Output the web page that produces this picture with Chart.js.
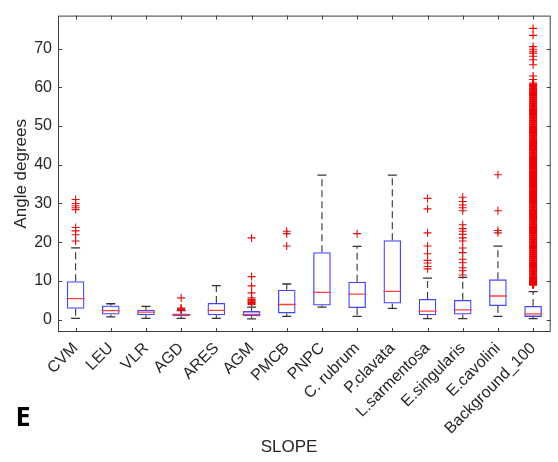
<!DOCTYPE html>
<html>
<head>
<meta charset="utf-8">
<script src="https://cdn.jsdelivr.net/npm/chart.js@4.4.1/dist/chart.umd.min.js"></script>
<style>
  html, body { margin: 0; padding: 0; background: #fff; overflow: hidden; }
  #wrap { width: 561px; height: 462px; position: relative; }
</style>
</head>
<body>
<div id="wrap"><canvas id="myChart"></canvas></div>
<script>
var categories = ['CVM', 'LEU', 'VLR', 'AGD', 'ARES', 'AGM', 'PMCB', 'PNPC', 'C. rubrum', 'P.clavata', 'L.sarmentosa', 'E.singularis', 'E.cavolini', 'Background_100'];
var yTicks = [0, 10, 20, 30, 40, 50, 60, 70];

var q1 = [2.8, 1.3, 1.1, 0.85, 1.1, 0.85, 1.6, 3.65, 3.0, 4.15, 1.1, 1.3, 3.5, 0.7];
var median = [5.4, 2.3, 1.95, 1.3, 2.4, 1.35, 3.9, 7.05, 6.6, 7.3, 2.2, 2.5, 6.1, 1.5];
var q3 = [9.9, 3.65, 2.55, 1.6, 4.3, 2.2, 7.7, 17.4, 9.8, 20.5, 5.35, 5.1, 10.4, 3.5];
var whiskerLow = [0.3, 0.7, 0.3, 0.3, 0.3, 0.2, 0.85, 3.2, 0.85, 2.9, 0.25, 0.25, 0.85, 0.25];
var whiskerHigh = [18.5, 4.1, 3.4, 2.3, 8.8, 3.2, 9.2, 37.3, 18.9, 37.3, 10.7, 10.9, 19.0, 7.2];

var outliers = [
  [31.0, 30.0, 29.4, 28.9, 28.4, 23.8, 22.9, 21.9, 20.3],
  [],
  [],
  [5.6, 3.0, 2.8, 2.6, 2.4],
  [],
  [21.1, 11.1, 8.7, 6.9, 5.6, 5.2, 5.0, 4.8, 4.6, 4.4, 4.2, 3.9],
  [22.8, 22.2, 19.0],
  [],
  [22.2],
  [],
  [31.3, 28.6, 22.4, 19.0, 17.0, 15.3, 14.6, 13.7, 13.1],
  [31.6, 30.5, 29.6, 28.9, 28.1, 24.5, 23.5, 22.8, 22.0, 21.1, 20.3, 18.5, 17.3, 15.6, 14.7, 13.4, 12.6, 11.5],
  [37.4, 28.1, 23.0, 22.4],
  []
];
// Background_100 has a dense column of outliers
var bgOutliers = [75.2, 73.4, 70.5, 69.8, 69.3, 68.8, 68.0, 67.1, 65.8, 62.9, 62.0, 61.1,
  60.7, 60.2, 59.7, 59.2, 58.7, 58.2, 57.8, 57.3, 56.8, 56.3, 55.8, 55.3, 54.8, 54.3, 53.9, 53.4,
  52.9, 52.4, 51.9, 51.4, 50.9, 50.4, 49.9, 49.5, 49.0, 48.5, 48.0, 47.5, 47.0, 46.5, 46.0, 45.6,
  45.1, 44.6, 44.1, 43.6, 43.1, 42.6, 42.1, 41.7, 41.2, 40.7, 40.2, 39.7, 39.2, 38.7, 38.2, 37.8,
  37.3, 36.8, 36.3, 35.8, 35.3, 34.8, 34.3, 33.9, 33.4, 32.9, 32.4, 31.9, 31.4, 30.9, 30.4, 30.0,
  29.5, 29.0, 28.5, 28.0, 27.5, 27.0, 26.5, 26.1, 25.6, 25.1, 24.6, 24.1, 23.6, 23.1, 22.6, 22.2,
  21.7, 21.2, 20.7, 20.2, 19.7, 19.2, 18.7, 18.3, 17.8, 17.3, 16.8, 16.3, 15.8, 15.3, 14.8, 14.4,
  13.9, 13.4, 12.9, 12.4, 11.9, 11.4, 10.9, 10.5, 10.0, 9.5, 9.0];

var outlierPoints = [];
outliers.forEach(function (list, i) {
  list.forEach(function (v) { outlierPoints.push({x: categories[i], y: v}); });
});
var bgPoints = bgOutliers.map(function (v) { return {x: 'Background_100', y: v}; });

var font = "'Liberation Sans', Arial, sans-serif";

var boxExtras = {
  id: 'boxExtras',
  beforeDatasetsDraw: function (chart) {
    var ctx = chart.ctx, x = chart.scales.x, y = chart.scales.y;
    ctx.save();
    ctx.strokeStyle = '#444';
    ctx.lineWidth = 1.2;
    ctx.setLineDash([7, 4]);
    categories.forEach(function (c, i) {
      var px = x.getPixelForValue(i);
      ctx.beginPath();
      ctx.moveTo(px, y.getPixelForValue(q3[i]));
      ctx.lineTo(px, y.getPixelForValue(whiskerHigh[i]));
      ctx.moveTo(px, y.getPixelForValue(q1[i]));
      ctx.lineTo(px, y.getPixelForValue(whiskerLow[i]));
      ctx.stroke();
    });
    ctx.restore();
  },
  afterDraw: function (chart) {
    var ctx = chart.ctx, a = chart.chartArea, x = chart.scales.x, y = chart.scales.y;
    ctx.save();
    ctx.strokeStyle = '#404040';
    ctx.lineWidth = 1;
    ctx.strokeRect(a.left + 0.5, a.top + 0.5, a.right - a.left - 1, a.bottom - a.top - 1);
    ctx.beginPath();
    yTicks.forEach(function (v) {
      var py = Math.round(y.getPixelForValue(v)) + 0.5;
      ctx.moveTo(a.left, py); ctx.lineTo(a.left + 4, py);
      ctx.moveTo(a.right, py); ctx.lineTo(a.right - 4, py);
    });
    categories.forEach(function (c, i) {
      var px = Math.round(x.getPixelForValue(i)) + 0.5;
      ctx.moveTo(px, a.top); ctx.lineTo(px, a.top + 4);
      ctx.moveTo(px, a.bottom); ctx.lineTo(px, a.bottom - 4);
    });
    ctx.stroke();

    ctx.fillStyle = '#262626';
    ctx.font = '17px ' + font;
    ctx.textAlign = 'center';
    ctx.textBaseline = 'middle';
    ctx.fillText('SLOPE', 289, 447);

    ctx.fillStyle = '#000';
    ctx.font = "bold 27px 'Open Sans', sans-serif";
    ctx.fillText('E', 23, 418);
    ctx.restore();
  }
};

var ctx = document.getElementById('myChart').getContext('2d');
var myChart = new Chart(ctx, {
  type: 'bar',
  data: {
    labels: categories,
    datasets: [{
      type: 'bar',
      label: 'box',
      data: categories.map(function (c, i) { return [q1[i], q3[i]]; }),
      backgroundColor: 'rgba(0,0,0,0)',
      borderColor: '#4646ff',
      borderWidth: 1.3,
      borderSkipped: false,
      barPercentage: 0.5,
      categoryPercentage: 1,
      order: 5
    }, {
      type: 'scatter',
      label: 'median',
      data: categories.map(function (c, i) { return {x: c, y: median[i]}; }),
      pointStyle: 'line',
      pointRadius: 9,
      borderColor: '#ff4040',
      borderWidth: 1.3,
      order: 2
    }, {
      type: 'scatter',
      label: 'upper cap',
      data: categories.map(function (c, i) { return {x: c, y: whiskerHigh[i]}; }),
      pointStyle: 'line',
      pointRadius: 4.5,
      borderColor: '#333',
      borderWidth: 1.3,
      order: 3
    }, {
      type: 'scatter',
      label: 'lower cap',
      data: categories.map(function (c, i) { return {x: c, y: whiskerLow[i]}; }),
      pointStyle: 'line',
      pointRadius: 4.5,
      borderColor: '#333',
      borderWidth: 1.3,
      order: 3
    }, {
      type: 'scatter',
      label: 'outliers',
      data: outlierPoints,
      pointStyle: 'cross',
      pointRadius: 4,
      borderColor: '#dd1010',
      borderWidth: 1.1,
      order: 1
    }, {
      type: 'scatter',
      label: 'background outliers',
      data: bgPoints,
      pointStyle: 'cross',
      pointRadius: 4,
      borderColor: '#ee0000',
      borderWidth: function (c) { return c.raw && c.raw.y < 61 ? 2.2 : 1.1; },
      order: 1
    }]
  },
  options: {
    responsive: true,
    maintainAspectRatio: false,
    animation: false,
    layout: { padding: { top: 12, right: 1.5, left: 0, bottom: 0 } },
    plugins: { legend: { display: false }, tooltip: { enabled: false } },
    scales: {
      x: {
        type: 'category',
        offset: true,
        grid: { display: false, drawTicks: false },
        border: { display: false },
        ticks: {
          autoSkip: false,
          minRotation: 45,
          maxRotation: 45,
          padding: 7,
          color: '#262626',
          font: { family: font, size: 16 }
        },
        afterFit: function (axis) { axis.height = 130; }
      },
      y: {
        min: -3.2,
        max: 78.5,
        grid: { display: false, drawTicks: false },
        border: { display: false },
        afterBuildTicks: function (axis) {
          axis.ticks = yTicks.map(function (v) { return {value: v}; });
        },
        ticks: {
          padding: 6,
          color: '#262626',
          font: { family: font, size: 16 }
        },
        title: {
          display: true,
          text: 'Angle degrees',
          color: '#262626',
          font: { family: font, size: 17 },
          padding: { top: 11, bottom: 0 }
        },
        afterFit: function (axis) { axis.width = 58; }
      }
    }
  },
  plugins: [boxExtras]
});
</script>
</body>
</html>
